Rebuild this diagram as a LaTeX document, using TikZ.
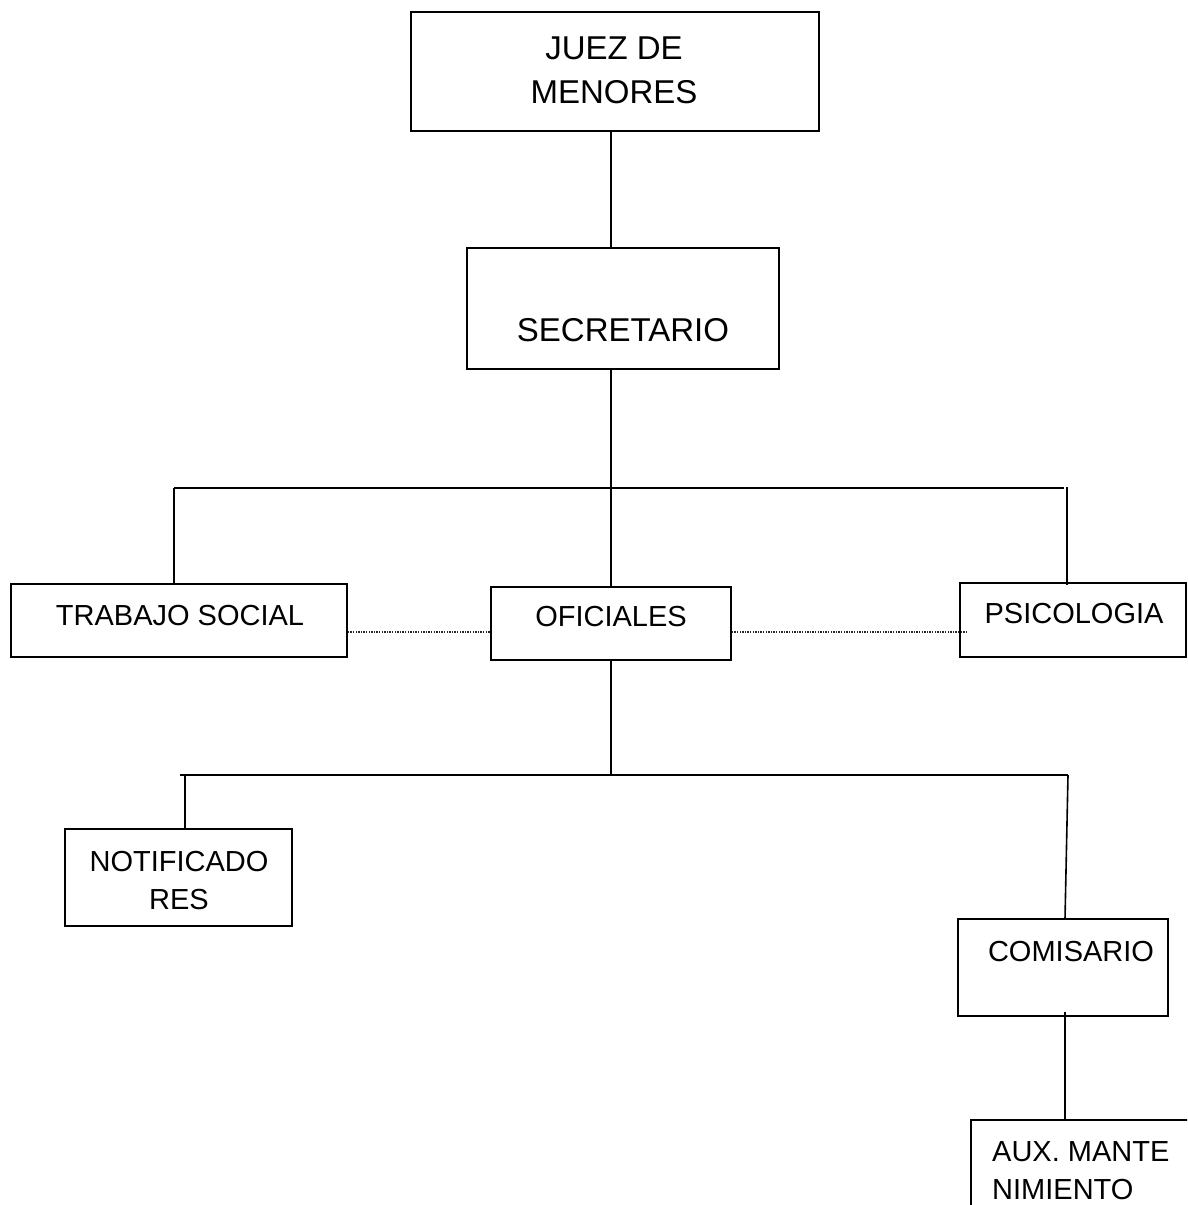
\documentclass[tikz,border=0pt]{standalone}
\usepackage{fontspec}
\setmainfont{Liberation Sans}
\begin{document}
\begin{tikzpicture}[x=1pt,y=-1pt,
  box/.style={draw,line width=1.6pt,rectangle,inner sep=0pt},
  big/.style={font=\fontsize{33}{44}\selectfont,align=center,inner sep=0pt},
  small/.style={font=\fontsize{29}{38}\selectfont,align=center,inner sep=0pt},
  conn/.style={line width=1.6pt},
  dots/.style={line width=1.3pt,dash pattern=on 1.3pt off 1.3pt,black!85}]
\useasboundingbox (0,0) rectangle (1187,1205);
\clip (0,0) rectangle (1187,1205);
% boxes
\node[box,minimum width=408pt,minimum height=119pt] (juez) at (615,71.5) {};
\node[box,minimum width=312pt,minimum height=121pt] (sec) at (623,308.5) {};
\node[box,minimum width=336pt,minimum height=73pt] (trab) at (179,620.5) {};
\node[box,minimum width=240pt,minimum height=73pt] (ofi) at (611,623.5) {};
\node[box,minimum width=226pt,minimum height=74pt] (psi) at (1073,620) {};
\node[box,minimum width=227pt,minimum height=97pt] (noti) at (178.5,877.5) {};
\node[box,minimum width=210pt,minimum height=97pt] (comi) at (1063,967.5) {};
\node[box,minimum width=260pt,minimum height=140pt] (aux) at (1101,1190) {};
% texts
\node[big] (tjuez) at (614,70) {JUEZ DE\\MENORES};
\node[big] (tsec) at (623,330) {SECRETARIO};
\node[small] (ttrab) at (180,616) {TRABAJO SOCIAL};
\node[small] (tofi) at (611,617) {OFICIALES};
\node[small] (tpsi) at (1074,614) {PSICOLOGIA};
\node[small] (tnoti) at (179,881) {NOTIFICADO\\RES};
\node[small] (tcomi) at (1071,952) {COMISARIO};
\node[small,align=left,anchor=west] (taux) at (992,1171) {AUX. MANTE\\NIMIENTO};
% bus coordinates
\coordinate (b1c) at (611,488);
\coordinate (b1l) at (174,488);
\coordinate (b1r) at (1064,488);
\coordinate (b1v) at (1067,487);
\coordinate (b2c) at (611,775);
\coordinate (b2l) at (180,775);
\coordinate (b2r) at (1068,775);
\coordinate (b2lv) at (185,775);
\coordinate (comiv) at (1065,919);
% connectors
\draw[conn] (juez.south -| b1c) -- (sec.north -| b1c);
\draw[conn] (sec.south -| b1c) -- (ofi.north -| b1c);
\draw[conn] (b1l) -- (b1r);
\draw[conn] (b1l) -- (trab.north -| b1l);
\draw[conn] (b1v) -- ([yshift=-3pt]psi.north -| b1v);
\draw[dots] (trab.east |- 0,632) -- (ofi.west |- 0,632);
\draw[dots] (ofi.east |- 0,632) -- ([xshift=8pt]psi.west |- 0,632);
\draw[conn] (ofi.south -| b2c) -- (b2c);
\draw[conn] (b2l) -- (b2r);
\draw[conn] (b2lv) -- (noti.north -| b2lv);
\draw[conn] (b2r) -- (comiv);
\draw[conn] ([yshift=5pt]comi.south -| comiv) -- (aux.north -| comiv);
\end{tikzpicture}
\end{document}
